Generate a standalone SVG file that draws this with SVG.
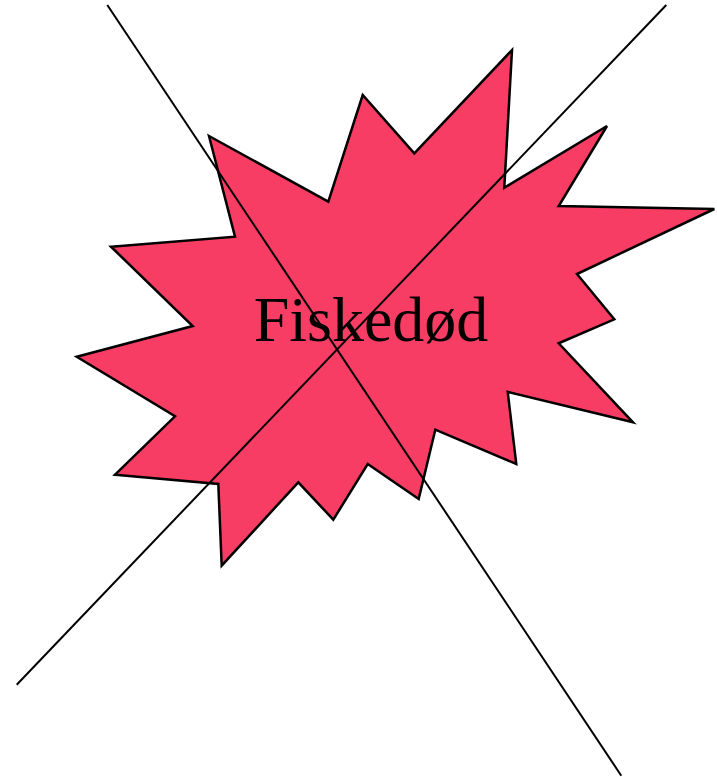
<svg xmlns="http://www.w3.org/2000/svg" width="717" height="777" viewBox="0 0 717 777">
<style>
.burst{fill:#f73d63;stroke:#000;stroke-width:2.5;stroke-linejoin:miter}
.cross{stroke:#000;stroke-width:2;fill:none}
.label{font-family:"Liberation Serif","Times New Roman",serif;font-size:64px;fill:#000}
</style>
<rect width="717" height="777" fill="#fff"/>
<g id="burst">
<polygon class="burst" points="209,136 328.3,201.7 362.7,95 414.3,153.3 512,50 504.3,187.7 607,126 558.7,206 714.3,209 577,274 614.3,319.3 558.7,343.3 633,422.3 507.7,392 516.3,464 435.3,429.7 418.7,499 367.7,464 333.3,519.7 298.3,482.3 221.7,565.7 218.3,484 115,474.7 175,416.3 76.7,356.7 192.7,326 111,246.7 235,236.7"/>
<text class="label" x="371" y="341" text-anchor="middle">Fiskedød</text>
</g>
<g id="connectors">
<line class="cross" x1="107.3" y1="5" x2="621.3" y2="775.7"/>
<line class="cross" x1="666.3" y1="5" x2="16.7" y2="684.7"/>
</g>
</svg>
